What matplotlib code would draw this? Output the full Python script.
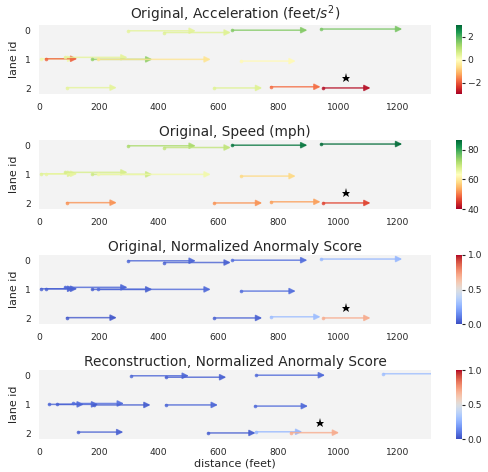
import numpy as np
import matplotlib
matplotlib.use("Agg")
import matplotlib.pyplot as plt
from matplotlib import colors
from matplotlib.cm import ScalarMappable
from matplotlib.patches import FancyArrowPatch

# original trajectories, one arrow per vehicle (feet)
x_start = [298, 418, 646, 942, 6, 22, 87, 178, 198, 674, 92, 585, 774, 950]
x_end = [524, 641, 897, 1214, 118, 128, 296, 379, 574, 858, 260, 746, 941, 1108]
lane_y = [0.0, 0.06, -0.02, -0.06, 0.97, 0.97, 0.92, 0.99, 0.99, 1.05, 1.97, 1.98, 1.94, 1.98]
accel = [0.4, 0.5, 1.5, 1.6, 0.2, -1.9, 0.4, 1.4, -0.5, -0.1, 0.4, 0.5, -1.8, -2.8]
speed = [72, 70, 85, 86, 67, 66, 68, 69, 65, 58, 52, 52, 53, 46]
score = [0.06, 0.05, 0.08, 0.28, 0.05, 0.05, 0.06, 0.04, 0.07, 0.08, 0.03, 0.05, 0.3, 0.7]

# reconstructed trajectories
rx_start = [309, 423, 726, 1151, 33, 60, 112, 184, 423, 721, 131, 565, 724, 841]
rx_end = [501, 626, 956, 1345, 150, 198, 284, 373, 598, 899, 282, 724, 880, 1003]
r_lane_y = [0.0, 0.05, -0.02, -0.07, 0.99, 0.99, 0.96, 1.01, 1.01, 1.05, 1.95, 1.98, 1.94, 1.97]
r_score = [0.06, 0.05, 0.07, 0.3, 0.06, 0.05, 0.08, 0.04, 0.06, 0.07, 0.05, 0.04, 0.28, 0.7]

star_orig = (1025, 1.63)
star_recon = (938, 1.64)

plt.rcParams["text.color"] = ".15"
plt.rcParams["xtick.color"] = ".15"
plt.rcParams["ytick.color"] = ".15"
plt.rcParams["axes.labelcolor"] = ".15"

fig = plt.figure(figsize=(4.88, 4.72), dpi=100)

def draw_panel(bottom, xs, xe, ys, vals, cmap, vmin, vmax, cticks, title, star, xlabel=False):
    ax = fig.add_axes([39 / 488, bottom, 392 / 488, 69.3 / 472])
    ax.set_facecolor("#f3f3f3")
    for s in ax.spines.values():
        s.set_visible(False)
    norm = colors.Normalize(vmin, vmax)
    cm_ = plt.get_cmap(cmap)
    for a, b, y, v in zip(xs, xe, ys, vals):
        c = cm_(norm(v))
        arr = FancyArrowPatch((a, y), (b, y), arrowstyle="-|>", mutation_scale=9,
                              color=c, lw=1.1, shrinkA=0, shrinkB=0, alpha=0.8)
        ax.add_patch(arr)
        ax.plot(a, y, "o", color=c, ms=2.6, alpha=0.8, mew=0)
    ax.plot(star[0], star[1], "*", color="k", ms=6.5, mew=0)
    ax.set_xlim(0, 1310)
    ax.set_ylim(2.2, -0.2)
    ax.set_yticks([0, 1, 2])
    ax.set_xticks(np.arange(0, 1201, 200))
    ax.tick_params(length=0, labelsize=6.6)
    ax.tick_params(axis="x", pad=6)
    ax.tick_params(axis="y", pad=6)
    ax.set_ylabel("lane id", fontsize=7.9, labelpad=4)
    ax.set_title(title, fontsize=9.9, pad=3)
    if xlabel:
        ax.set_xlabel("distance (feet)", fontsize=8, labelpad=1)

    cax = fig.add_axes([456 / 488, bottom, 6 / 488, 69.3 / 472])
    cb = fig.colorbar(ScalarMappable(norm=norm, cmap=cm_), cax=cax, ticks=cticks)
    cb.outline.set_visible(False)
    cax.tick_params(labelsize=6.6, length=2.5, width=0.8, pad=1.5)
    return ax

draw_panel((472 - 94.3) / 472, x_start, x_end, lane_y, accel, "RdYlGn", -3, 3, [-2, 0, 2],
           "Original, Acceleration (feet/$s^2$)", star_orig)
draw_panel((472 - 209.3) / 472, x_start, x_end, lane_y, speed, "RdYlGn", 40, 86.5, [40, 60, 80],
           "Original, Speed (mph)", star_orig)
draw_panel((472 - 324.3) / 472, x_start, x_end, lane_y, score, "coolwarm", 0, 1, [0.0, 0.5, 1.0],
           "Original, Normalized Anormaly Score", star_orig)
draw_panel((472 - 439.3) / 472, rx_start, rx_end, r_lane_y, r_score, "coolwarm", 0, 1, [0.0, 0.5, 1.0],
           "Reconstruction, Normalized Anormaly Score", star_recon, xlabel=True)

fig.savefig("out.png", dpi=100)
